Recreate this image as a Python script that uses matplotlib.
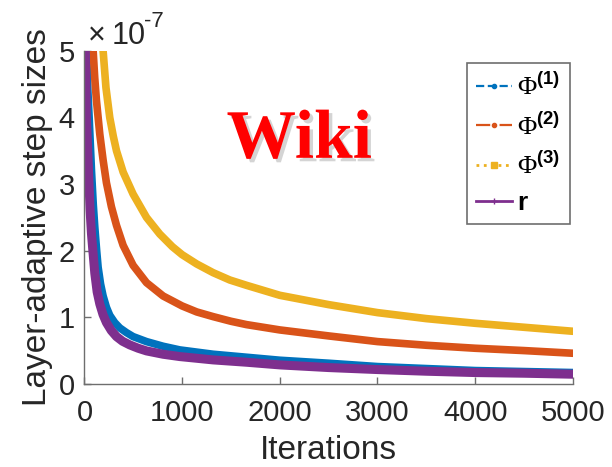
import matplotlib
matplotlib.use('Agg')
import matplotlib.pyplot as plt
from matplotlib.lines import Line2D
import matplotlib.patheffects as pe

plt.rcParams['font.family'] = ['Liberation Sans', 'DejaVu Sans']
plt.rcParams['mathtext.fontset'] = 'custom'
plt.rcParams['mathtext.rm'] = 'Liberation Serif'
plt.rcParams['mathtext.sf'] = 'Liberation Sans'
plt.rcParams['mathtext.bf'] = 'Liberation Sans:bold'

# values, y in units of 1e-7
phi1_x = [22, 35, 48, 72, 90, 106, 125, 140, 165, 191, 225, 259, 310, 362, 430, 498,
          635, 805, 976, 1317, 1659, 2000, 2500, 3000, 3500, 4000, 4500, 5000]
phi1_y = [5.0, 4.4, 4.0, 3.2, 2.7, 2.35, 2.0, 1.75, 1.5, 1.32, 1.15, 1.03, 0.92, 0.84,
          0.77, 0.71, 0.635, 0.565, 0.51, 0.445, 0.4, 0.355, 0.31, 0.26, 0.23, 0.2,
          0.185, 0.17]

phi2_x = [89, 105, 123, 157, 191, 225, 276, 328, 396, 498, 635, 805, 1000, 1150, 1317,
          1500, 1659, 2000, 2500, 3000, 3500, 4000, 4500, 5000]
phi2_y = [5.0, 4.6, 4.25, 3.75, 3.36, 3.02, 2.66, 2.38, 2.08, 1.78, 1.52, 1.32, 1.17,
          1.08, 1.01, 0.94, 0.89, 0.81, 0.72, 0.635, 0.58, 0.535, 0.5, 0.46]

phi3_x = [191, 220, 259, 295, 328, 396, 498, 635, 771, 900, 1000, 1150, 1317, 1488,
          1659, 2000, 2500, 3000, 3500, 4000, 4500, 5000]
phi3_y = [5.0, 4.45, 4.0, 3.72, 3.5, 3.18, 2.85, 2.5, 2.25, 2.06, 1.94, 1.8, 1.67,
          1.56, 1.48, 1.33, 1.19, 1.07, 0.98, 0.91, 0.85, 0.79]

r_x = [8, 20, 32, 44, 58, 72, 89, 106, 130, 157, 190, 225, 275, 328, 390, 464, 550,
       635, 805, 976, 1317, 1659, 2000, 2500, 3000, 3500, 4000, 4500, 5000]
r_y = [5.0, 4.0, 3.55, 3.1, 2.6, 2.25, 1.95, 1.66, 1.38, 1.2, 1.04, 0.92, 0.8, 0.71,
       0.64, 0.585, 0.535, 0.495, 0.445, 0.41, 0.36, 0.325, 0.285, 0.245, 0.215, 0.19,
       0.17, 0.16, 0.145]

labels = [r'$\Phi^{\mathbf{(1)}}$', r'$\Phi^{\mathbf{(2)}}$', r'$\Phi^{\mathbf{(3)}}$',
          r'$\mathbf{r}$']
colors = ['#0072BD', '#D95319', '#EDB120', '#7E2F8E']
widths = [5.5, 5.5, 5.5, 6.5]

fig = plt.figure(figsize=(6.12, 4.67), dpi=100)
ax = fig.add_axes([0.138, 0.178, 0.798, 0.713])

series = [(phi1_x, phi1_y), (phi2_x, phi2_y), (phi3_x, phi3_y), (r_x, r_y)]
for (xs, ys), c, w in zip(series, colors, widths):
    ax.plot(xs, ys, color=c, lw=w, solid_capstyle='round', solid_joinstyle='round')

ax.set_xlim(0, 5000)
ax.set_ylim(0, 5)
ax.set_xticks(range(0, 5001, 1000))
ax.set_yticks(range(0, 6))
for s in ['top', 'right']:
    ax.spines[s].set_visible(False)
for s in ['left', 'bottom']:
    ax.spines[s].set_color('#6e6e6e')
    ax.spines[s].set_linewidth(1.0)
ax.tick_params(direction='in', length=5, width=1, color='#6e6e6e',
               labelsize=21, labelcolor='#262626')
ax.tick_params(axis='x', pad=11)
ax.tick_params(axis='y', pad=7)
ax.set_xlabel('Iterations', fontsize=24, color='#262626', labelpad=6)
ax.set_ylabel('Layer-adaptive step sizes', fontsize=24, color='#262626', labelpad=4)

# exponent shown above the y axis
fig.text(88 / 612, 1 - 44 / 467, '×', fontsize=22, color='#262626',
         ha='left', va='baseline')
fig.text(112 / 612, 1 - 44 / 467, '10', fontsize=22, color='#262626',
         ha='left', va='baseline')
fig.text(144 / 612, 1 - 27 / 467, '-7', fontsize=16, color='#262626',
         ha='left', va='baseline')

# legend with the original line styles
handles = [
    Line2D([], [], color=colors[0], ls='--', lw=1.6, marker='.', ms=6),
    Line2D([], [], color=colors[1], ls='-.', lw=1.6, marker='.', ms=6),
    Line2D([], [], color=colors[2], ls=':', lw=2.0, marker='s', ms=4),
    Line2D([], [], color=colors[3], ls='-', lw=2.0, marker='+', ms=5),
]
leg = fig.legend(handles, labels, loc='upper left', bbox_to_anchor=(467 / 612, 1 - 63 / 467),
                 borderaxespad=0, fontsize=19, frameon=True, fancybox=False,
                 handlelength=1.35, handletextpad=0.2, labelspacing=0.45,
                 borderpad=0.35, numpoints=1)
leg.get_frame().set_edgecolor('#6e6e6e')
leg.get_frame().set_linewidth(1.2)
leg.get_frame().set_alpha(1)

# Wiki tag
ax.text(0.44, 0.73, 'Wiki', transform=ax.transAxes, fontsize=50,
        family='Liberation Serif', weight='bold', color='#FF0000',
        ha='center', va='center',
        path_effects=[pe.withSimplePatchShadow(offset=(2.5, -2.5), shadow_rgbFace='#aaaaaa', alpha=0.5)])

plt.savefig('out.png', dpi=100)
